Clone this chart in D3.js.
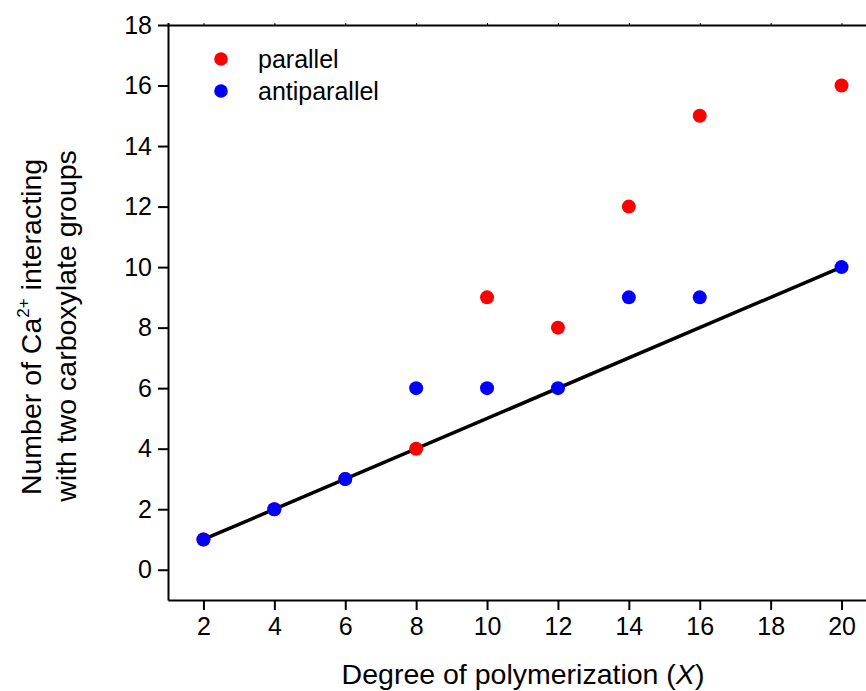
<!DOCTYPE html>
<html><head><meta charset="utf-8">
<script src="https://cdn.jsdelivr.net/npm/d3@7"></script>
<style>body{margin:0;background:#fff}svg{display:block}text{font-family:"Liberation Sans",Arial,sans-serif}</style>
</head><body><svg id="c" width="866" height="691"></svg>
<script>
const xValues = [2, 4, 6, 8, 10, 12, 14, 16, 20];
const parallel = [1, 2, 3, 4, 9, 8, 12, 15, 16];
const antiparallel = [1, 2, 3, 6, 6, 6, 9, 9, 10];
const fitLine = [[2, 1], [20, 10]];
const xTicks = [2, 4, 6, 8, 10, 12, 14, 16, 18, 20];
const yTicks = [0, 2, 4, 6, 8, 10, 12, 14, 16, 18];
const seriesNames = ["parallel", "antiparallel"];
const seriesColors = ["#ff0000", "#0000ff"];

const svg = d3.select("#c");
const x = d3.scaleLinear().domain([1, 21]).range([168, 877]);
const y = d3.scaleLinear().domain([-1, 18]).range([600, 25]);

// top line with tiny ticks
svg.append("g").attr("transform","translate(0,25)")
  .call(d3.axisTop(x).tickValues(xTicks).tickSize(2).tickFormat(""))
  .call(g=>g.select(".domain").attr("stroke","#000").attr("stroke-width",2))
  .call(g=>g.selectAll(".tick line").attr("stroke","#000").attr("stroke-width",1));

const xa = svg.append("g").attr("transform","translate(0,600)")
  .call(d3.axisBottom(x).tickValues(xTicks).tickSize(10).tickPadding(7).tickSizeOuter(0));
const ya = svg.append("g").attr("transform","translate(168,0)")
  .call(d3.axisLeft(y).tickValues(yTicks).tickSize(10).tickPadding(6).tickSizeOuter(0));
[xa, ya].forEach(g=>{
  g.select(".domain").attr("stroke","#000").attr("stroke-width",2);
  g.selectAll(".tick line").attr("stroke","#000").attr("stroke-width",2);
  g.selectAll(".tick text").attr("fill","#000").style("font-size","25px").style("font-family",'"Liberation Sans",Arial,sans-serif');
});

// fit line
svg.append("path").datum(fitLine)
  .attr("d", d3.line().x(d=>x(d[0])).y(d=>y(d[1])))
  .attr("stroke","#000").attr("stroke-width",3.5).attr("fill","none");

// points
[parallel, antiparallel].forEach((vals, i)=>{
  svg.append("g").selectAll("circle").data(xValues.map((xv,j)=>[xv, vals[j]]))
    .join("circle").attr("cx",d=>x(d[0])).attr("cy",d=>y(d[1])).attr("r",7)
    .attr("fill", seriesColors[i]);
});

// legend
seriesNames.forEach((n,i)=>{
  const yy = 59 + i*32;
  svg.append("circle").attr("cx",221).attr("cy",yy).attr("r",6.8).attr("fill",seriesColors[i]);
  svg.append("text").attr("x",258).attr("y",yy+9).style("font-size","25px").attr("fill","#000").text(n);
});

// x title
const xt = svg.append("text").attr("x",523).attr("y",684).attr("text-anchor","middle")
  .style("font-size","28.5px").attr("fill","#000");
xt.append("tspan").text("Degree of polymerization (");
xt.append("tspan").style("font-style","italic").text("X");
xt.append("tspan").text(")");

// y title
const yt1 = svg.append("text").attr("transform","translate(41,327) rotate(-90)").attr("text-anchor","middle")
  .style("font-size","28.5px").attr("fill","#000");
yt1.append("tspan").text("Number of Ca");
yt1.append("tspan").attr("dy",-12).style("font-size","17px").text("2+");
yt1.append("tspan").attr("dy",12).text(" interacting");
svg.append("text").attr("transform","translate(76,326) rotate(-90)").attr("text-anchor","middle")
  .style("font-size","28.5px").attr("fill","#000").text("with two carboxylate groups");
</script></body></html>
